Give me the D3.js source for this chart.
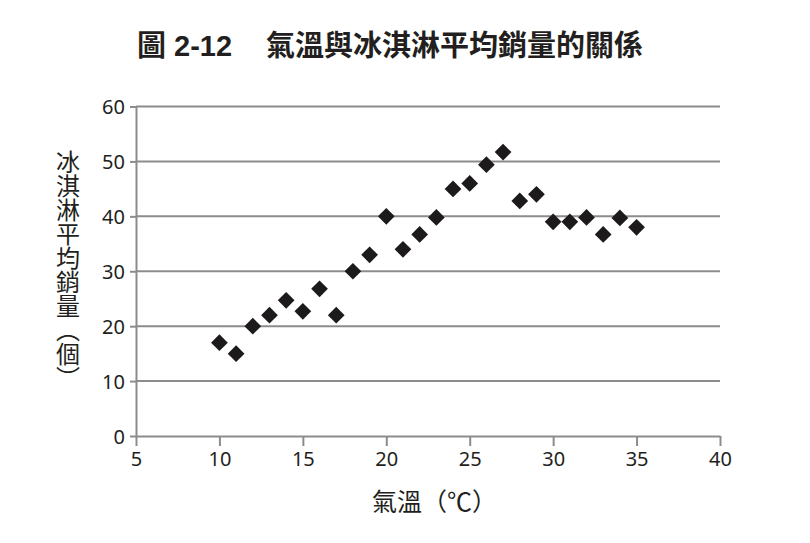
<!DOCTYPE html>
<html>
<head>
<meta charset="utf-8">
<script src="https://cdn.jsdelivr.net/npm/d3@7"></script>
<style>
  body { margin: 0; background: #fff; }
  svg { display: block; }
</style>
</head>
<body>
<div id="chart"></div>
<script>
// temperature (°C) and average ice cream sales
const temps = [10, 11, 12, 13, 14, 15, 16, 17, 18, 19, 20, 21, 22, 23, 24, 25, 26, 27, 28, 29, 30, 31, 32, 33, 34, 35];
const sales = [17, 15, 20, 22, 24.7, 22.7, 26.8, 22, 30, 33, 40, 34, 36.7, 39.8, 45, 46, 49.4, 51.7, 42.8, 44, 39, 39, 39.8, 36.7, 39.7, 38];
const xTicks = [5, 10, 15, 20, 25, 30, 35, 40];
const yTicks = [0, 10, 20, 30, 40, 50, 60];

const width = 810, height = 543;
const margin = { left: 136, right: 90, top: 106.5, bottom: 107 };

const svg = d3.select('#chart').append('svg')
  .attr('width', width)
  .attr('height', height);

const x = d3.scaleLinear().domain([5, 40]).range([margin.left, width - margin.right]);
const y = d3.scaleLinear().domain([0, 60]).range([height - margin.bottom, margin.top]);

const lineColor = '#8c8c8c';
const textColor = '#231f20';
const cjk = '"Noto Sans CJK TC", "Noto Sans CJK SC", sans-serif';

// horizontal grid
svg.append('g')
  .selectAll('line')
  .data(yTicks.filter(d => d > 0))
  .join('line')
  .attr('x1', x(5))
  .attr('x2', x(40))
  .attr('y1', d => y(d))
  .attr('y2', d => y(d))
  .attr('stroke', lineColor)
  .attr('stroke-width', 2);

// axes
const xAxis = svg.append('g')
  .attr('transform', `translate(0,${y(0)})`)
  .call(d3.axisBottom(x).tickValues(xTicks).tickSize(10).tickSizeOuter(0).tickPadding(6));

const yAxis = svg.append('g')
  .attr('transform', `translate(${x(5)},0)`)
  .call(d3.axisLeft(y).tickValues(yTicks).tickSize(6).tickSizeOuter(0).tickPadding(5));

[xAxis, yAxis].forEach(g => {
  g.select('.domain').attr('stroke', lineColor).attr('stroke-width', 2);
  g.selectAll('.tick line').attr('stroke', lineColor).attr('stroke-width', 2);
  g.selectAll('.tick text')
    .attr('fill', textColor)
    .style('font-family', '"Noto Sans", sans-serif')
    .style('font-size', '20px');
});
yAxis.selectAll('.tick text').attr('dy', '0.36em');

// points
const diamond = d3.symbol().type(d3.symbolSquare).size(140);
svg.append('g')
  .selectAll('path')
  .data(temps.map((t, i) => ({ t, v: sales[i] })))
  .join('path')
  .attr('d', diamond)
  .attr('transform', d => `translate(${x(d.t)},${y(d.v)}) rotate(45)`)
  .attr('fill', '#1c1a1b');

// title
const title = svg.append('text')
  .attr('x', 137)
  .attr('y', 56)
  .attr('fill', textColor)
  .style('font-size', '29px')
  .style('font-weight', 'bold');
title.append('tspan').style('font-family', cjk).text('圖');
title.append('tspan').attr('dx', 8).style('font-family', '"Liberation Sans", Arial, sans-serif').text('2-12');

svg.append('text')
  .attr('x', 266)
  .attr('y', 56)
  .attr('fill', textColor)
  .style('font-family', cjk)
  .style('font-size', '29px')
  .style('font-weight', 'bold')
  .text('氣溫與冰淇淋平均銷量的關係');

// axis labels
svg.append('text')
  .attr('x', 372)
  .attr('y', 511)
  .attr('fill', textColor)
  .style('font-family', cjk)
  .style('font-size', '25px')
  .text('氣溫（℃）');

svg.append('text')
  .attr('x', 68)
  .attr('y', 150)
  .attr('fill', textColor)
  .style('font-family', cjk)
  .style('font-size', '24px')
  .style('writing-mode', 'vertical-rl')
  .text('冰淇淋平均銷量（個）');
</script>
</body>
</html>
